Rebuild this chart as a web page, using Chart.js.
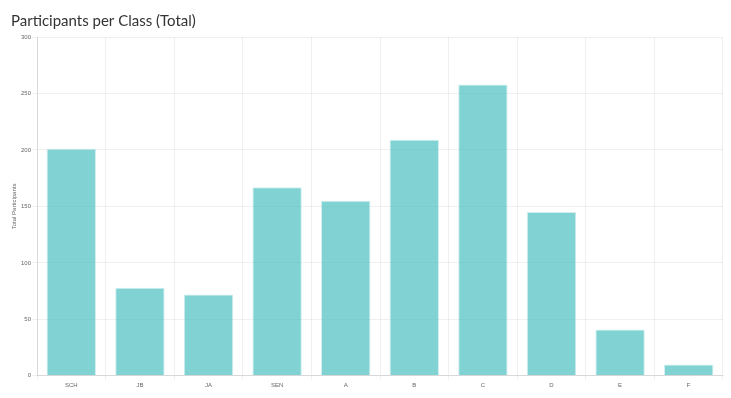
<!DOCTYPE html>
<html><head><meta charset="utf-8">
<script src="https://cdn.jsdelivr.net/npm/chart.js@4/dist/chart.umd.min.js"></script>
<style>html,body{margin:0;padding:0;background:#fff}#wrap{width:731px;height:398px}</style>
</head><body><div id="wrap"><canvas id="c" width="731" height="398"></canvas></div>
<script>
const categories = ["SCH","JB","JA","SEN","A","B","C","D","E","F"];
const participants = [201,78,72,167,155,209,258,145,41,10];
const yTicks = [0,50,100,150,200,250,300];

new Chart(document.getElementById('c'), {
  type: 'bar',
  data: { labels: categories, datasets: [{
    label: 'Total Participants', data: participants,
    backgroundColor: 'rgba(75,192,192,0.7)', borderColor: 'rgba(75,192,192,0.25)', borderWidth: 1
  }]},
  options: {
    responsive: false, animation: false,
    layout: { padding: { left: 11, right: 8, top: 0, bottom: 7 } },
    plugins: {
      legend: { display: false },
      title: { display: true, text: 'Participants per Class (Total)', align: 'start', color: '#333',
        font: { family: 'Lato', size: 15, weight: 'normal' }, padding: { top: 12, bottom: 7 } }
    },
    scales: {
      x: { grid: { color: 'rgba(0,0,0,0.06)', tickLength: 4 }, ticks: { color: '#666', font: { size: 6 }, padding: 2 } },
      y: { min: 0, max: 300, afterBuildTicks: a => { a.ticks = yTicks.map(v => ({ value: v })); },
        afterFit: s => { s.width = 26; },
        grid: { color: 'rgba(0,0,0,0.06)', tickLength: 5 }, ticks: { color: '#666', font: { size: 6 }, padding: 1 },
        title: { display: true, text: 'Total Participants', color: '#666', font: { size: 6 }, padding: 0 } }
    }
  }
});
</script></body></html>
